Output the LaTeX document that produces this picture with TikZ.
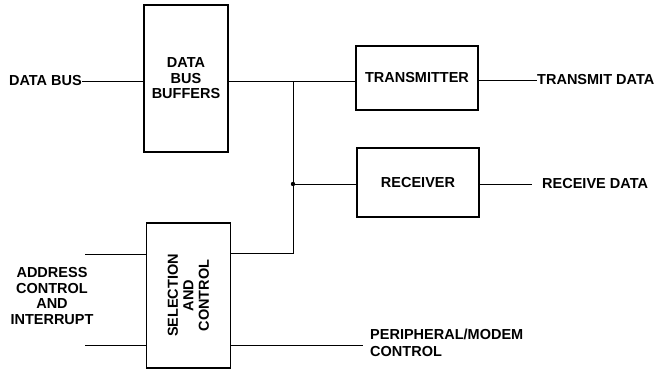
\documentclass[tikz,border=0pt]{standalone}
\usepackage{fontspec}
\setmainfont{Liberation Sans}
\begin{document}
\begin{tikzpicture}[x=1pt,y=-1pt,
  blk/.style={draw,line width=1.9pt,minimum width=#1,inner sep=0pt},
  lbl/.style={font=\fontsize{14.5}{15.5}\selectfont\bfseries,inner sep=0pt,align=center},
  wire/.style={line width=0.9pt}]
\useasboundingbox (0,0) rectangle (659,370);
% boxes
\node[blk=84pt,minimum height=147pt,lbl] (dbb) at (186,78.5) {DATA\\BUS\\BUFFERS};
\node[blk=122pt,minimum height=64pt,lbl] (tx) at (417,78) {TRANSMITTER};
\node[blk=122pt,minimum height=69pt,lbl] (rx) at (418,182.5) {RECEIVER};
\node[blk=84pt,minimum height=145pt] (sel) at (188.5,295.5) {};
\node[lbl,rotate=90] (seltext) at (sel.center) {SELECTION\\AND\\CONTROL};
% labels
\node[lbl,anchor=east] (dbus) at (82,81) {DATA BUS};
\node[lbl,anchor=west] (txd) at (537,80) {TRANSMIT DATA};
\node[lbl,anchor=west] (rxd) at (542,184) {RECEIVE DATA};
\node[lbl,font=\fontsize{14.5}{15.5}\selectfont\bfseries] (addr) at (52,296) {ADDRESS\\CONTROL\\AND\\INTERRUPT};
\node[lbl,align=left,anchor=north west,font=\fontsize{14.5}{17}\selectfont\bfseries] (per) at (370,329) {PERIPHERAL/MODEM\\CONTROL};
% coordinates
\coordinate (j1) at (293,81);
\coordinate (j2) at (293,184);
\coordinate (j3) at (293,253);
\coordinate (ain1) at (85,254);
\coordinate (ain2) at (85,345);
\coordinate (pout) at (363,345);
% wires
\draw[wire] (dbus.east) -- (dbb.west |- dbus.east);
\draw[wire] (dbb.east |- j1) -- (tx.west |- j1);
\draw[wire] (j1) -- (j3) -- (sel.east |- j3);
\draw[wire] (j2) -- (rx.west |- j2);
\fill (j2) circle (2.2pt);
\draw[wire] (tx.east |- txd.west) -- (txd.west);
\draw[wire] (rx.east |- rxd.west) -- ([xshift=-10pt]rxd.west);
\draw[wire] (ain1) -- (sel.west |- ain1);
\draw[wire] (ain2) -- (sel.west |- ain2);
\draw[wire] (sel.east |- pout) -- (pout);
\end{tikzpicture}
\end{document}
